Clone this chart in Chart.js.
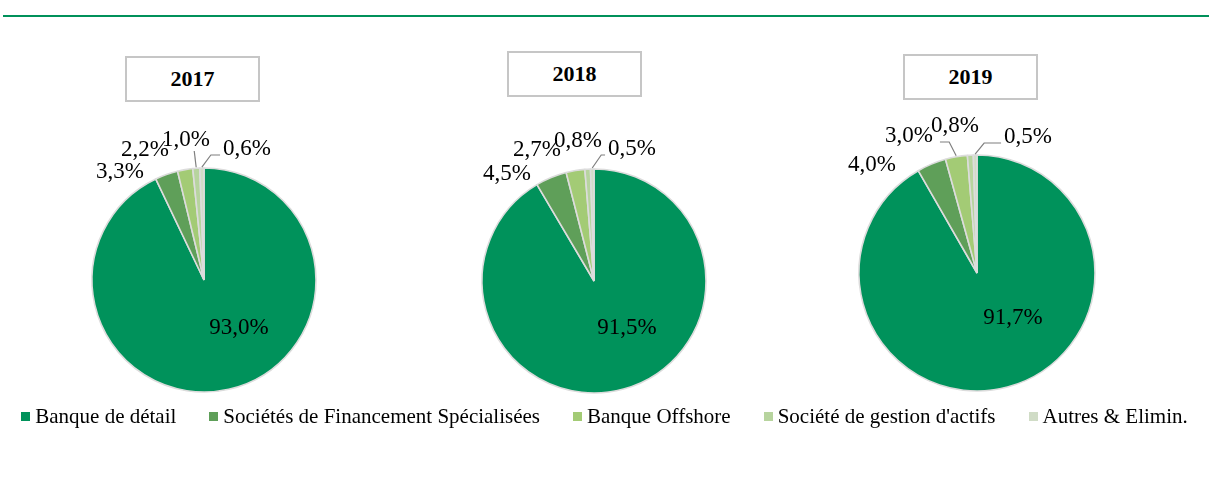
<!DOCTYPE html>
<html>
<head>
<meta charset="utf-8">
<script src="https://cdn.jsdelivr.net/npm/chart.js@4"></script>
<style>
  body { margin: 0; width: 1209px; height: 478px; background: #fff; position: relative; overflow: hidden;
         font-family: "Liberation Serif", "Times New Roman", serif; color: #000; }
  .rule { position: absolute; left: 3px; right: 0; top: 15px; height: 2px; background: #00915a; }
  .title { position: absolute; width: 135px; height: 46px; box-sizing: border-box; border: 2px solid #c6c6c6;
           font-weight: bold; font-size: 22px; display: flex; align-items: center; justify-content: center; background: #fff; }
  .pie { position: absolute; width: 340px; height: 340px; }
  #legend { position: absolute; top: 404px; left: 0; width: 1209px; display: flex; justify-content: center;
            gap: 33px; font-size: 21px; line-height: 24px; z-index: 2; }
  #legend span.item { display: flex; align-items: center; white-space: nowrap; }
  #legend i { display: inline-block; width: 9px; height: 9px; margin-right: 5px; margin-top: 1px; }
</style>
</head>
<body>
<div class="rule"></div>

<div class="title" style="left:125px;top:56px">2017</div>
<div class="title" style="left:507px;top:51px">2018</div>
<div class="title" style="left:903px;top:54px">2019</div>

<div class="pie" style="left:34px;top:110px"><canvas id="pie2017"></canvas></div>
<div class="pie" style="left:424px;top:111px"><canvas id="pie2018"></canvas></div>
<div class="pie" style="left:807px;top:103px"><canvas id="pie2019"></canvas></div>

<div id="legend"></div>

<script>
// Data
const categories = ['Banque de détail', 'Sociétés de Financement Spécialisées', 'Banque Offshore', "Société de gestion d'actifs", 'Autres & Elimin.'];
const years = ['2017', '2018', '2019'];
const values2017 = [93.0, 3.3, 2.2, 1.0, 0.6];
const values2018 = [91.5, 4.5, 2.7, 0.8, 0.5];
const values2019 = [91.7, 4.0, 3.0, 0.8, 0.5];

const colors = ['#00925b', '#5f9f59', '#a3cb75', '#b7d49e', '#d0dcc6'];

// label placement (offset from pie centre, px) and leader style per slice
const labelLayout = {
  '2017': { radius: 112, spots: [[35, 48], [-84, -108], [-59, -130], [-18, -140], [43, -131]],
            leaders: [null, null, null, 'up', 'right'] },
  '2018': { radius: 112, spots: [[33, 47], [-87, -107], [-57, -131], [-16, -140], [38, -132]],
            leaders: [null, null, null, null, 'right'] },
  '2019': { radius: 118, spots: [[36, 45], [-105, -108], [-68, -137], [-22, -147], [51, -136]],
            leaders: [null, null, 'left', null, 'right'] }
};

const fmt = v => v.toFixed(1).replace('.', ',') + '%';

const pieLabels = {
  id: 'pieLabels',
  afterDatasetsDraw(chart) {
    const ctx = chart.ctx;
    const cfg = labelLayout[chart.options.yearKey];
    const meta = chart.getDatasetMeta(0);
    const vals = chart.data.datasets[0].data;
    ctx.save();
    ctx.font = '23px "Liberation Serif", "Times New Roman", serif';
    ctx.textAlign = 'center';
    ctx.textBaseline = 'middle';
    meta.data.forEach((arc, i) => {
      const p = arc.getProps(['x', 'y', 'startAngle', 'endAngle', 'outerRadius'], true);
      const lx = p.x + cfg.spots[i][0];
      const ly = p.y + cfg.spots[i][1];
      const text = fmt(vals[i]);
      const w = ctx.measureText(text).width;
      const lead = cfg.leaders[i];
      if (lead) {
        const mid = (p.startAngle + p.endAngle) / 2;
        const ax = p.x + Math.cos(mid) * (p.outerRadius + 1);
        const ay = p.y + Math.sin(mid) * (p.outerRadius + 1);
        ctx.strokeStyle = '#7f7f7f';
        ctx.lineWidth = 1.2;
        ctx.beginPath();
        ctx.moveTo(ax, ay);
        const y0 = ly + 6;
        if (lead === 'up') {
          ctx.lineTo(ax - 2, ly + 11);
        } else if (lead === 'right') {
          ctx.lineTo(ax + 9, y0);
          ctx.lineTo(lx - w / 2 - 3, y0);
        } else {
          ctx.lineTo(ax - 7, y0);
          ctx.lineTo(lx + w / 2 + 7, y0);
        }
        ctx.stroke();
      }
      ctx.fillStyle = '#000';
      ctx.fillText(text, lx, ly);
    });
    ctx.restore();
  }
};

function makePie(id, year, values) {
  new Chart(document.getElementById(id), {
    type: 'pie',
    data: {
      labels: categories,
      datasets: [{
        data: values,
        backgroundColor: colors,
        borderColor: '#dcdcdc',
        borderWidth: 1.6
      }]
    },
    options: {
      yearKey: year,
      responsive: true,
      maintainAspectRatio: false,
      animation: false,
      radius: labelLayout[year].radius,
      layout: { padding: 0 },
      plugins: { legend: { display: false }, tooltip: { enabled: false } }
    },
    plugins: [pieLabels]
  });
}

makePie('pie2017', years[0], values2017);
makePie('pie2018', years[1], values2018);
makePie('pie2019', years[2], values2019);

// Legend
const legend = document.getElementById('legend');
categories.forEach((c, i) => {
  const item = document.createElement('span');
  item.className = 'item';
  item.innerHTML = `<i style="background:${colors[i]}"></i>${c}`;
  legend.appendChild(item);
});
</script>
</body>
</html>
